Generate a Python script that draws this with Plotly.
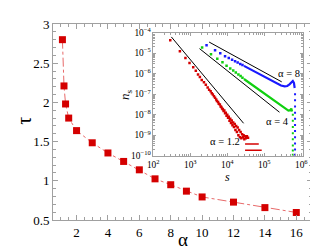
import plotly.graph_objects as go

# ---- main data: tau vs alpha ----
alpha = [1.1, 1.2, 1.3, 1.5, 2, 3, 4, 5, 6, 7, 8, 9, 10, 12, 14, 16]
tau = [2.80, 2.21, 1.98, 1.80, 1.64, 1.485, 1.355, 1.247, 1.14, 1.025, 0.95, 0.868, 0.794, 0.728, 0.658, 0.596]

# ---- inset data (log10 s, log10 n_s) ----
red_logs = [2.46, 2.72, 2.87, 2.98, 3.08, 3.15, 3.21, 3.26, 3.31, 3.37, 3.42, 3.47, 3.51, 3.55, 3.58, 3.61,
            3.64, 3.67, 3.70, 3.72, 3.75, 3.77, 3.80, 3.82, 3.84, 3.86, 3.88, 3.90, 3.92, 3.94, 3.96, 3.98,
            4.00, 4.02, 4.04, 4.06, 4.08, 4.10, 4.12, 4.14, 4.16, 4.18, 4.20, 4.22, 4.24, 4.26, 4.28, 4.30,
            4.32, 4.34, 4.36, 4.38, 4.40, 4.42, 4.44, 4.46, 4.48, 4.50, 4.53, 4.56]
red_logn = [-4.37, -4.91, -5.24, -5.48, -5.69, -5.86, -6.04, -6.16, -6.31, -6.42, -6.54, -6.67, -6.78, -6.86, -6.95, -7.02,
            -7.10, -7.18, -7.26, -7.33, -7.38, -7.47, -7.50, -7.60, -7.62, -7.70, -7.73, -7.82, -7.80, -7.93, -7.90, -8.05,
            -8.00, -8.15, -8.10, -8.30, -8.20, -8.40, -8.28, -8.52, -8.38, -8.60, -8.45, -8.75, -8.55, -8.85, -8.62, -9.00,
            -8.75, -9.10, -8.85, -9.15, -8.95, -9.10, -9.00, -9.20, -9.05, -9.15, -9.05, -9.12]
red_bar_logs = [4.48, 4.85, None, 4.48, 4.93]
red_bar_logn = [-9.43, -9.43, None, -9.74, -9.74]

green_sparse_logs = [3.32, 3.56, 3.73, 3.87, 3.98, 4.08, 4.16, 4.23, 4.30, 4.36, 4.41]
green_sparse_logn = [-4.73, -5.06, -5.27, -5.45, -5.61, -5.75, -5.85, -5.95, -6.04, -6.12, -6.20]
green_dense_logs = [4.45, 4.6, 4.7, 4.8, 4.9, 5.0, 5.1, 5.2, 5.3, 5.4, 5.5, 5.6, 5.65, 5.70, 5.73, 5.75]
green_dense_logn = [-6.26, -6.45, -6.59, -6.72, -6.86, -6.98, -7.12, -7.25, -7.38, -7.50, -7.62, -7.74, -7.80, -7.78, -7.70, -7.85]
green_tail_logs = [5.77, 5.77, 5.77, 5.77, 5.77, 5.77, 5.77, 5.77]
green_tail_logn = [-8.0, -8.3, -8.6, -8.9, -9.2, -9.5, -9.75, -9.95]

blue_sparse_logs = [3.44, 3.67, 3.81, 3.94, 4.04, 4.13, 4.21, 4.28, 4.35, 4.41]
blue_sparse_logn = [-4.61, -4.86, -5.00, -5.15, -5.24, -5.32, -5.40, -5.46, -5.53, -5.58]
blue_dense_logs = [4.45, 4.6, 4.7, 4.9, 5.1, 5.3, 5.45, 5.55, 5.62, 5.68, 5.73, 5.77, 5.80, 5.82]
blue_dense_logn = [-5.62, -5.76, -5.86, -6.05, -6.25, -6.45, -6.58, -6.62, -6.60, -6.52, -6.42, -6.36, -6.45, -6.70]
blue_tail_logs = [5.83, 5.83, 5.83, 5.83, 5.83, 5.83, 5.83, 5.83, 5.83, 5.83, 5.83]
blue_tail_logn = [-7.0, -7.3, -7.6, -7.9, -8.2, -8.5, -8.8, -9.1, -9.4, -9.7, -9.95]

ref_red_logs, ref_red_logn = [2.49, 4.44], [-4.21, -8.42]
ref_green_logs, ref_green_logn = [3.25, 5.41], [-4.78, -7.88]
ref_blue_logs, ref_blue_logn = [3.51, 5.47], [-4.46, -6.40]

labels = ["\u03b1 = 8", "\u03b1 = 4", "\u03b1 = 1.2"]
label_logs = [5.66, 5.36, 3.93]
label_logn = [-6.0, -8.31, -9.3]

RED = "#d40000"
GREEN = "#10d010"
BLUE = "#1a1aff"
FONT = "Liberation Serif, Times New Roman, serif"

def p(v):
    return [None if x is None else 10 ** x for x in v]

fig = go.Figure()
fig.add_trace(go.Scatter(x=alpha, y=tau, mode="lines+markers",
                         line=dict(color="#e86a6a", width=1, dash="dashdot"),
                         marker=dict(symbol="square", size=7, color=RED),
                         xaxis="x", yaxis="y", showlegend=False))

def add_inset(xs, ys, **kw):
    fig.add_trace(go.Scatter(x=p(xs), y=p(ys), xaxis="x2", yaxis="y2", showlegend=False, **kw))

add_inset(red_logs, red_logn, mode="markers", marker=dict(size=2.5, color=RED, symbol="square"))
add_inset(red_bar_logs, red_bar_logn, mode="lines", line=dict(color=RED, width=1.5))
add_inset(green_sparse_logs, green_sparse_logn, mode="markers", marker=dict(size=2.5, color=GREEN, symbol="square"))
add_inset(green_dense_logs, green_dense_logn, mode="lines", line=dict(color=GREEN, width=2.2))
add_inset(green_tail_logs, green_tail_logn, mode="markers", marker=dict(size=2, color=GREEN, symbol="square"))
add_inset(blue_sparse_logs, blue_sparse_logn, mode="markers", marker=dict(size=2.5, color=BLUE, symbol="square"))
add_inset(blue_dense_logs, blue_dense_logn, mode="lines", line=dict(color=BLUE, width=2.2))
add_inset(blue_tail_logs, blue_tail_logn, mode="markers", marker=dict(size=2, color=BLUE, symbol="square"))
for xs, ys in [(ref_red_logs, ref_red_logn), (ref_green_logs, ref_green_logn), (ref_blue_logs, ref_blue_logn)]:
    add_inset(xs, ys, mode="lines", line=dict(color="black", width=1))

axis_common = dict(showline=True, linecolor="#a0a0a0", linewidth=1, mirror="allticks",
                   ticks="inside", tickcolor="#a0a0a0", showgrid=False, zeroline=False)

fig.update_layout(
    width=318, height=249,
    margin=dict(l=45, r=12, t=9, b=37),
    paper_bgcolor="white", plot_bgcolor="white",
    font=dict(family=FONT, color="black"),
    xaxis=dict(domain=[0, 1], range=[0.5, 17], tickvals=[2, 4, 6, 8, 10, 12, 14, 16],
               ticklen=5, tickfont=dict(size=13),
               minor=dict(ticks="inside", dtick=0.5, tick0=0, ticklen=3, tickcolor="#a0a0a0"),
               **axis_common),
    yaxis=dict(domain=[0, 1], range=[0.5, 3], tickvals=[0.5, 1, 1.5, 2, 2.5, 3],
               ticktext=["0.5", "1", "1.5", "2", "2.5", "3"],
               ticklen=5, tickfont=dict(size=13),
               minor=dict(ticks="inside", dtick=0.1, tick0=0, ticklen=3, tickcolor="#a0a0a0"),
               **axis_common),
    xaxis2=dict(domain=[0.387, 0.966], anchor="y2", type="log", range=[2, 6.05],
                dtick=1, exponentformat="power", ticklen=3, tickfont=dict(size=7.5),
                minor=dict(ticks="inside", ticklen=2, tickcolor="#a0a0a0"),
                **axis_common),
    yaxis2=dict(domain=[0.328, 0.956], anchor="x2", type="log", range=[-10, -4],
                dtick=1, exponentformat="power", ticklen=3, tickfont=dict(size=7.5),
                minor=dict(ticks="inside", ticklen=2, tickcolor="#a0a0a0"),
                **axis_common),
)

def ann(text, x, y, size, angle=0):
    return dict(text=text, x=x, y=y, xref="paper", yref="paper", showarrow=False,
                xanchor="center", yanchor="middle", textangle=angle,
                font=dict(size=size, family=FONT))

annotations = [
    ann("\u03c4", -0.115, 0.507, 20, angle=-90),
    ann("\u03b1", 0.502, -0.100, 19),
    ann("<i>n</i><sub>s</sub>", 0.28, 0.64, 13, angle=-90),
    ann("<i>s</i>", 0.674, 0.218, 12),
]
for t, lx, ly in zip(labels, label_logs, label_logn):
    annotations.append(dict(text=t, x=lx, y=ly, xref="x2", yref="y2", showarrow=False,
                            xanchor="center", yanchor="middle",
                            font=dict(size=10.5, family=FONT)))
fig.update_layout(annotations=annotations)

fig.write_html("out.html")
